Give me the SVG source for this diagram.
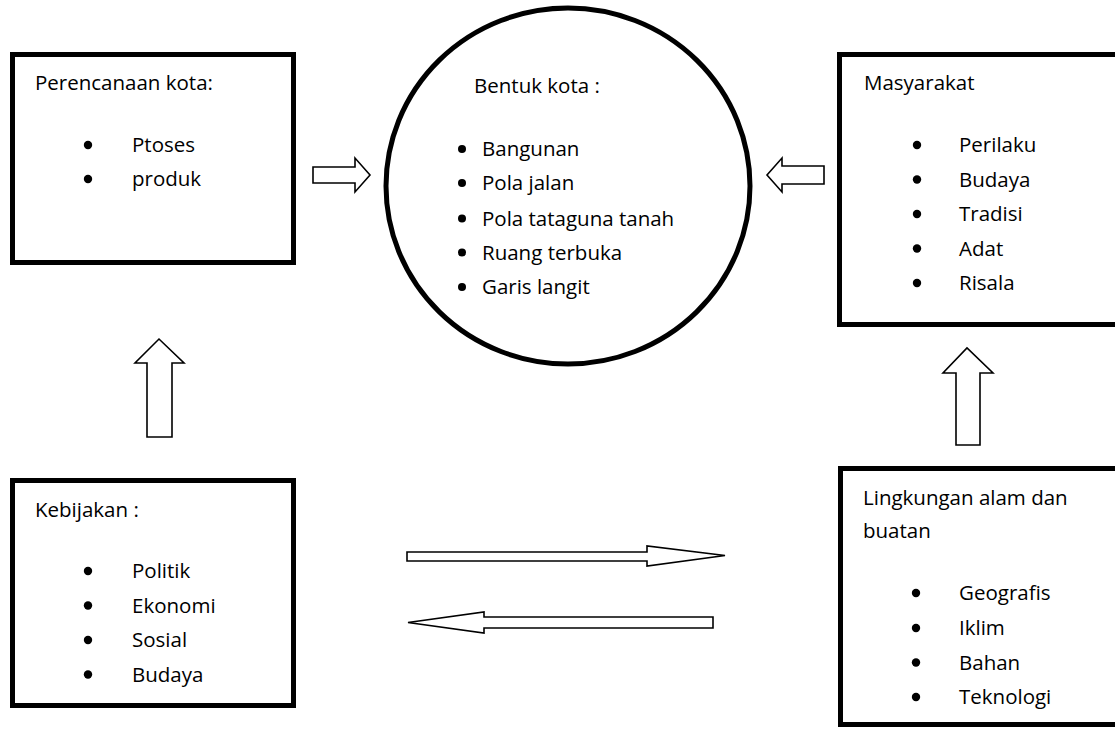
<svg xmlns="http://www.w3.org/2000/svg" width="1115" height="729" viewBox="0 0 1115 729">
<style>
.box{fill:#fff;stroke:#000;stroke-width:5}
.arr{fill:#fff;stroke:#000;stroke-width:1.6;stroke-linejoin:miter}
text{font-family:"Open Sans","Liberation Sans",sans-serif;font-size:20.5px;fill:#000}
.b{fill:#000}
</style>
<rect width="1115" height="729" fill="#fff"/>
<g id="perencanaan">
<rect class="box" x="12.5" y="54.5" width="281" height="208"/>
<text x="35" y="90">Perencanaan kota:</text>
<circle class="b" cx="88" cy="145" r="4.2"/><text x="132" y="152">Ptoses</text>
<circle class="b" cx="88" cy="179" r="4.2"/><text x="132" y="186">produk</text>
</g>
<g id="bentuk">
<ellipse class="box" cx="568" cy="186" rx="182" ry="178"/>
<text x="474" y="93">Bentuk kota :</text>
<circle class="b" cx="462" cy="149" r="4"/><text x="482" y="156">Bangunan</text>
<circle class="b" cx="462" cy="183" r="4"/><text x="482" y="190">Pola jalan</text>
<circle class="b" cx="462" cy="218.5" r="4"/><text x="482" y="225.5">Pola tataguna tanah</text>
<circle class="b" cx="462" cy="252.5" r="4"/><text x="482" y="259.5">Ruang terbuka</text>
<circle class="b" cx="462" cy="287" r="4"/><text x="482" y="294">Garis langit</text>
</g>
<g id="masyarakat">
<rect class="box" x="839.5" y="54.5" width="285" height="270"/>
<text x="864" y="90">Masyarakat</text>
<circle class="b" cx="917" cy="145" r="4.2"/><text x="959" y="152">Perilaku</text>
<circle class="b" cx="917" cy="179.5" r="4.2"/><text x="959" y="186.5">Budaya</text>
<circle class="b" cx="917" cy="214" r="4.2"/><text x="959" y="221">Tradisi</text>
<circle class="b" cx="917" cy="248.5" r="4.2"/><text x="959" y="255.5">Adat</text>
<circle class="b" cx="917" cy="283" r="4.2"/><text x="959" y="290">Risala</text>
</g>
<g id="kebijakan">
<rect class="box" x="12.5" y="480.5" width="281" height="225"/>
<text x="35" y="517">Kebijakan :</text>
<circle class="b" cx="88" cy="571" r="4.2"/><text x="132" y="578">Politik</text>
<circle class="b" cx="88" cy="605.5" r="4.2"/><text x="132" y="612.5">Ekonomi</text>
<circle class="b" cx="88" cy="640" r="4.2"/><text x="132" y="647">Sosial</text>
<circle class="b" cx="88" cy="674.5" r="4.2"/><text x="132" y="681.5">Budaya</text>
</g>
<g id="lingkungan">
<rect class="box" x="840.5" y="468.5" width="285" height="256"/>
<text x="863" y="505">Lingkungan alam dan</text>
<text x="863" y="538">buatan</text>
<circle class="b" cx="916" cy="593" r="4.2"/><text x="959" y="600">Geografis</text>
<circle class="b" cx="916" cy="628" r="4.2"/><text x="959" y="635">Iklim</text>
<circle class="b" cx="916" cy="662.5" r="4.2"/><text x="959" y="669.5">Bahan</text>
<circle class="b" cx="916" cy="697" r="4.2"/><text x="959" y="704">Teknologi</text>
</g>
<g id="connectors">
<polygon class="arr" points="313,167 355,167 355,158 370,175 355,192 355,183 313,183"/>
<polygon class="arr" points="824,166 782,166 782,158 767,175 782,192 782,184 824,184"/>
<polygon class="arr" points="147,437 147,363 135,363 159,339 184,363 172,363 172,437"/>
<polygon class="arr" points="956,445 956,373 943,373 967,348 993,373 980,373 980,445"/>
<polygon class="arr" points="407,552 647,552 647,546 725,555.5 647,566 647,561 407,561"/>
<polygon class="arr" points="713,617 484,617 484,612 408,622.5 484,633 484,628 713,628"/>
</g>
</svg>
